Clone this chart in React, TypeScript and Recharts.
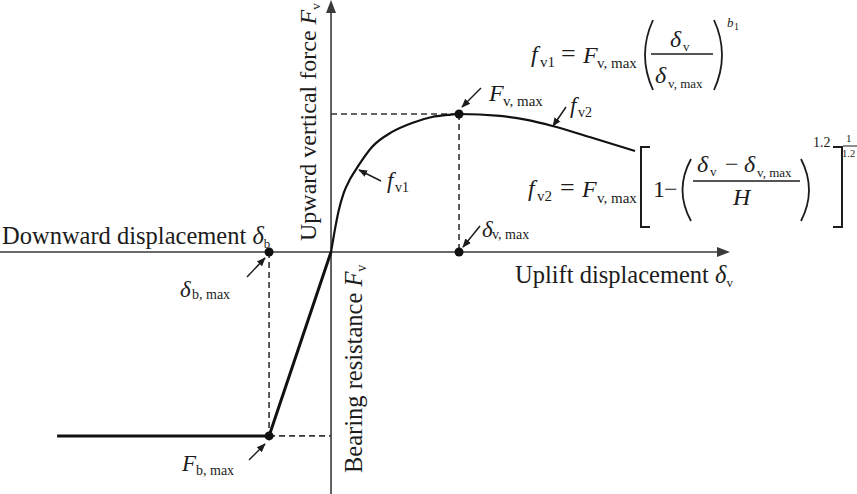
import { LineChart, Line, XAxis, YAxis, ReferenceLine, ReferenceDot } from "recharts"

// load-displacement model, dimensionless (delta_v,max = 1, F_v,max = 1)
const deltaVMax = 1
const FVMax = 1
const deltaBMax = -0.484
const FBMax = -1.333

// uplift branch f_v1 (rising) then f_v2 (softening)
const upliftX = [0, 0.026, 0.06, 0.1, 0.15, 0.21, 0.32, 0.477, 0.633, 0.789, 0.914, 1, 1.32, 1.53, 1.73, 2.02, 2.375]
const upliftY = [0, 0.14, 0.3, 0.43, 0.53, 0.62, 0.761, 0.87, 0.935, 0.978, 0.993, 1, 0.986, 0.957, 0.913, 0.833, 0.732]

// bearing branch: plateau at F_b,max then linear back to origin
const bearingX = [-2.14, deltaBMax, 0]
const bearingY = [FBMax, FBMax, 0]

const keyPointsX = [deltaVMax, deltaVMax, deltaBMax, deltaBMax]
const keyPointsY = [FVMax, 0, 0, FBMax]

const xDomain: [number, number] = [-2.586, 4.109]
const yDomain: [number, number] = [-1.754, 1.826]
const xArrowTip = 3.117

const upliftData = upliftX.map((x, i) => ({ x, y: upliftY[i] }))
const bearingData = bearingX.map((x, i) => ({ x, y: bearingY[i] }))

const W = 857
const H = 494
const ink = "#1c1c1c"
const axisInk = "#3a3a3a"
const serif = "'Liberation Serif', 'Times New Roman', serif"

function RightArrow(props: any) {
  const { cx, cy } = props
  return <polygon points={`${cx},${cy} ${cx - 13},${cy - 5} ${cx - 13},${cy + 5}`} fill={axisInk} />
}

function UpArrow(props: any) {
  const { cx, cy } = props
  return <polygon points={`${cx},${cy} ${cx - 5},${cy + 13} ${cx + 5},${cy + 13}`} fill={axisInk} />
}

function Dot(props: any) {
  const { cx, cy } = props
  return <circle cx={cx} cy={cy} r={4.5} fill="#111" />
}

const dash = { stroke: "#333", strokeWidth: 1.6, strokeDasharray: "6 4" }

function Sub({ x, y, children, size = 15 }: any) {
  return (
    <text x={x} y={y} fontSize={size} fontFamily={serif} fill={ink}>
      {children}
    </text>
  )
}

function It({ x, y, children, size = 24 }: any) {
  return (
    <text x={x} y={y} fontSize={size} fontFamily={serif} fontStyle="italic" fill={ink}>
      {children}
    </text>
  )
}

function Rm({ x, y, children, size = 24 }: any) {
  return (
    <text x={x} y={y} fontSize={size} fontFamily={serif} fill={ink}>
      {children}
    </text>
  )
}

function Paren({ x0, x1, y0, y1, open }: any) {
  const mid = (y0 + y1) / 2
  const d = open
    ? `M ${x1} ${y0} Q ${x0 - 4} ${mid} ${x1} ${y1}`
    : `M ${x0} ${y0} Q ${x1 + 4} ${mid} ${x0} ${y1}`
  return <path d={d} fill="none" stroke={ink} strokeWidth={1.8} />
}

function Bracket({ x0, x1, y0, y1, open }: any) {
  const d = open
    ? `M ${x1} ${y0} H ${x0} V ${y1} H ${x1}`
    : `M ${x0} ${y0} H ${x1} V ${y1} H ${x0}`
  return <path d={d} fill="none" stroke={ink} strokeWidth={2} />
}

function Leader({ x1, y1, x2, y2 }: any) {
  return <line x1={x1} y1={y1} x2={x2} y2={y2} stroke={ink} strokeWidth={1.5} markerEnd="url(#tip)" />
}

function Annotations() {
  return (
    <svg width={W} height={H} style={{ position: "absolute", left: 0, top: 0, pointerEvents: "none" }}>
      <defs>
        <marker id="tip" viewBox="0 0 10 10" refX="9" refY="5" markerWidth="6" markerHeight="6" orient="auto">
          <path d="M 0 1 L 10 5 L 0 9 z" fill={ink} />
        </marker>
      </defs>

      {/* axis titles */}
      <text x={2} y={244} fontSize={24.5} fontFamily={serif} fill={ink}>
        Downward displacement <tspan fontStyle="italic">δ</tspan>
        <tspan fontSize={13} dy={4}>b</tspan>
      </text>
      <text x={515} y={283} fontSize={24.5} fontFamily={serif} fill={ink}>
        Uplift displacement <tspan fontStyle="italic">δ</tspan>
        <tspan fontSize={13} dy={4}>v</tspan>
      </text>
      <text transform="translate(316 241) rotate(-90)" fontSize={24} fontFamily={serif} fill={ink}>
        Upward vertical force <tspan fontStyle="italic">F</tspan>
        <tspan fontSize={13} dy={4}>v</tspan>
      </text>
      <text transform="translate(362 473) rotate(-90)" fontSize={24.5} fontFamily={serif} fill={ink}>
        Bearing resistance <tspan fontStyle="italic">F</tspan>
        <tspan fontSize={14} dy={4}>v</tspan>
      </text>

      {/* point labels */}
      <It x={489} y={101}>F</It>
      <Sub x={503} y={106}>v, max</Sub>
      <Leader x1={481} y1={88} x2={462} y2={107} />

      <It x={570} y={113} size={23}>f</It>
      <Sub x={578} y={117} size={14}>v2</Sub>
      <Leader x1={566} y1={107} x2={553} y2={126} />

      <It x={387} y={188} size={23}>f</It>
      <Sub x={395} y={192} size={14}>v1</Sub>
      <Leader x1={381} y1={181} x2={359} y2={170} />

      <It x={482} y={237} size={23}>δ</It>
      <Sub x={492} y={239} size={14}>v, max</Sub>
      <Leader x1={480} y1={226} x2={463} y2={247} />

      <It x={180} y={297} size={23}>δ</It>
      <Sub x={192} y={299} size={14}>b, max</Sub>
      <Leader x1={247} y1={277} x2={265} y2={258} />

      <It x={182} y={471} size={23}>F</It>
      <Sub x={196} y={475} size={14}>b, max</Sub>
      <Leader x1={249} y1={460} x2={265} y2={444} />

      {/* f_v1 equation */}
      <It x={531} y={62}>f</It>
      <Sub x={540} y={67}>v1</Sub>
      <Rm x={561} y={62} size={26}>=</Rm>
      <It x={583} y={63}>F</It>
      <Sub x={597} y={68}>v, max</Sub>
      <Paren x0={641} x1={653} y0={20} y1={90} open />
      <It x={670} y={47}>δ</It>
      <Sub x={683} y={51} size={13}>v</Sub>
      <line x1={651} y1={54} x2={713} y2={54} stroke={ink} strokeWidth={1.4} />
      <It x={655} y={83}>δ</It>
      <Sub x={668} y={88} size={13}>v, max</Sub>
      <Paren x0={714} x1={726} y0={20} y1={90} />
      <It x={727} y={27} size={13}>b</It>
      <Sub x={734} y={30} size={10}>1</Sub>

      {/* f_v2 equation */}
      <It x={528} y={196}>f</It>
      <Sub x={537} y={201}>v2</Sub>
      <Rm x={560} y={196} size={26}>=</Rm>
      <It x={582} y={197}>F</It>
      <Sub x={597} y={203}>v, max</Sub>
      <Bracket x0={641} x1={650} y0={147} y1={227} open />
      <Rm x={653} y={197}>1</Rm>
      <Rm x={664} y={197}>−</Rm>
      <Paren x0={678} x1={691} y0={159} y1={221} open />
      <It x={697} y={172}>δ</It>
      <Sub x={710} y={176} size={13}>v</Sub>
      <Rm x={725} y={172}>−</Rm>
      <It x={744} y={172}>δ</It>
      <Sub x={757} y={177} size={13}>v, max</Sub>
      <line x1={693} y1={181} x2={800} y2={181} stroke={ink} strokeWidth={1.4} />
      <It x={733} y={205}>H</It>
      <Paren x0={801} x1={813} y0={159} y1={221} />
      <Sub x={813} y={147} size={14}>1.2</Sub>
      <Bracket x0={833} x1={842} y0={147} y1={227} />
      <Sub x={846} y={142} size={11}>1</Sub>
      <line x1={843} y1={146} x2={857} y2={146} stroke={ink} strokeWidth={1} />
      <Sub x={842} y={157} size={10.5}>1.2</Sub>
    </svg>
  )
}

export default function App() {
  return (
    <div style={{ position: "absolute", left: 0, top: 0, width: W, height: H, background: "#fff", overflow: "hidden" }}>
      <LineChart width={W} height={H} margin={{ top: 0, right: 0, bottom: 0, left: 0 }}>
        <XAxis type="number" dataKey="x" domain={xDomain} hide allowDataOverflow />
        <YAxis type="number" dataKey="y" domain={yDomain} hide allowDataOverflow />

        {/* axes */}
        <ReferenceLine
          segment={[{ x: xDomain[0], y: 0 }, { x: xArrowTip - 0.05, y: 0 }]}
          stroke={axisInk}
          strokeWidth={1.6}
          ifOverflow="visible"
        />
        <ReferenceLine
          segment={[{ x: 0, y: yDomain[0] }, { x: 0, y: yDomain[1] - 0.05 }]}
          stroke={axisInk}
          strokeWidth={1.6}
          ifOverflow="visible"
        />

        {/* guide lines */}
        <ReferenceLine segment={[{ x: 0, y: FVMax }, { x: deltaVMax, y: FVMax }]} {...dash} ifOverflow="visible" />
        <ReferenceLine segment={[{ x: deltaVMax, y: FVMax }, { x: deltaVMax, y: 0 }]} {...dash} ifOverflow="visible" />
        <ReferenceLine segment={[{ x: deltaBMax, y: 0 }, { x: deltaBMax, y: FBMax }]} {...dash} ifOverflow="visible" />
        <ReferenceLine segment={[{ x: deltaBMax, y: FBMax }, { x: 0, y: FBMax }]} {...dash} ifOverflow="visible" />

        <Line
          data={upliftData}
          dataKey="y"
          type="monotone"
          stroke="#111"
          strokeWidth={2.2}
          dot={false}
          activeDot={false}
          isAnimationActive={false}
        />
        <Line
          data={bearingData}
          dataKey="y"
          type="linear"
          stroke="#111"
          strokeWidth={3}
          dot={false}
          activeDot={false}
          isAnimationActive={false}
        />

        {keyPointsX.map((x, i) => (
          <ReferenceDot key={i} x={x} y={keyPointsY[i]} shape={<Dot />} ifOverflow="visible" />
        ))}
        <ReferenceDot x={xArrowTip} y={0} shape={<RightArrow />} ifOverflow="visible" />
        <ReferenceDot x={0} y={yDomain[1]} shape={<UpArrow />} ifOverflow="visible" />
      </LineChart>
      <Annotations />
    </div>
  )
}
